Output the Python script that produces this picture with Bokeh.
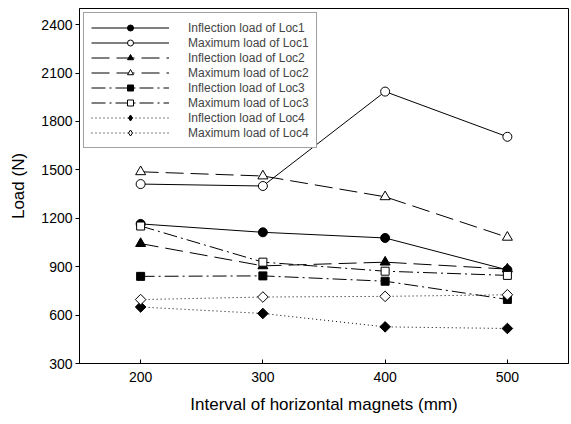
import numpy as np
from bokeh.plotting import figure
from bokeh.models import Legend, LegendItem, Range1d, FixedTicker
from bokeh.embed import file_html
from bokeh.resources import INLINE

x_vals = [200, 300, 400, 500]
infl_loc1 = [1165, 1113, 1078, 880]
max_loc1 = [1412, 1400, 1985, 1705]
infl_loc2 = [1043, 905, 928, 885]
max_loc2 = [1488, 1462, 1333, 1082]
infl_loc3 = [840, 843, 810, 697]
max_loc3 = [1152, 928, 872, 846]
infl_loc4 = [650, 610, 527, 517]
max_loc4 = [696, 712, 716, 726]

labels = ["Inflection load of Loc1", "Maximum load of Loc1",
          "Inflection load of Loc2", "Maximum load of Loc2",
          "Inflection load of Loc3", "Maximum load of Loc3",
          "Inflection load of Loc4", "Maximum load of Loc4"]
series = [infl_loc1, max_loc1, infl_loc2, max_loc2,
          infl_loc3, max_loc3, infl_loc4, max_loc4]
dashes = ["solid", "solid", "18 7", "18 7", "14 4 2 4", "14 4 2 4", "1 3", "1 3"]
markers = ["circle", "circle", "triangle", "triangle", "square", "square", "square", "square"]
sizes = [9, 9, 10, 10, 8, 8, 7.5, 7.5]
angles = [0, 0, 0, 0, 0, 0, np.pi / 4, np.pi / 4]
fills = ["black", "white"] * 4

FONT = "Liberation Sans"

p = figure(width=570, height=416, output_backend="svg", toolbar_location=None,
           x_range=Range1d(150, 550), y_range=Range1d(300, 2500),
           min_border_left=79, min_border_right=2, min_border_top=8, min_border_bottom=53)
p.background_fill_color = "white"
p.border_fill_color = "white"
p.outline_line_color = "black"
p.outline_line_width = 1
p.xgrid.visible = False
p.ygrid.visible = False

p.xaxis.ticker = FixedTicker(ticks=x_vals)
p.yaxis.ticker = FixedTicker(ticks=[300, 600, 900, 1200, 1500, 1800, 2100, 2400])
p.xaxis.minor_tick_line_color = None
p.yaxis.minor_tick_line_color = None
p.xaxis.major_tick_in = 4
p.xaxis.major_tick_out = 0
p.yaxis.major_tick_in = 0
p.yaxis.major_tick_out = 4
for ax in (p.xaxis, p.yaxis):
    ax.axis_line_color = "black"
    ax.major_tick_line_color = "black"
    ax.major_label_text_font = FONT
    ax.major_label_text_font_size = "14px"
    ax.major_label_text_color = "black"
    ax.axis_label_text_font = FONT
    ax.axis_label_text_font_size = "17px"
    ax.axis_label_text_font_style = "normal"
    ax.axis_label_text_color = "black"
p.xaxis.major_label_standoff = 8
p.yaxis.major_label_standoff = 3
p.xaxis.axis_label = "Interval of horizontal magnets (mm)"
p.yaxis.axis_label = "Load (N)"
p.xaxis.axis_label_standoff = 10
p.yaxis.axis_label_standoff = 10

items = []
for lab, ys, dsh, mk, sz, ang, fc in zip(labels, series, dashes, markers, sizes, angles, fills):
    ln = p.line(x_vals, ys, line_color="black", line_width=1, line_dash=dsh)
    sc = p.scatter(x_vals, ys, marker=mk, size=sz, angle=ang, fill_color=fc,
                   line_color="black", line_width=1)
    if ang:
        # legend-only diamond (point lies outside the visible range)
        sc = p.scatter([-1000], [ys[0]], marker="diamond", size=12, fill_color=fc,
                       line_color="black", line_width=1)
    items.append(LegendItem(label=lab, renderers=[ln, sc]))

legend = Legend(items=items, location="top_left", margin=4, padding=7, spacing=0,
                glyph_width=78, glyph_height=15, label_height=15, label_standoff=19,
                label_text_font=FONT, label_text_font_size="12px",
                border_line_color="#444444", border_line_width=1.5,
                background_fill_alpha=1.0)
p.add_layout(legend)

open("out.html", "w").write(file_html(p, INLINE))
